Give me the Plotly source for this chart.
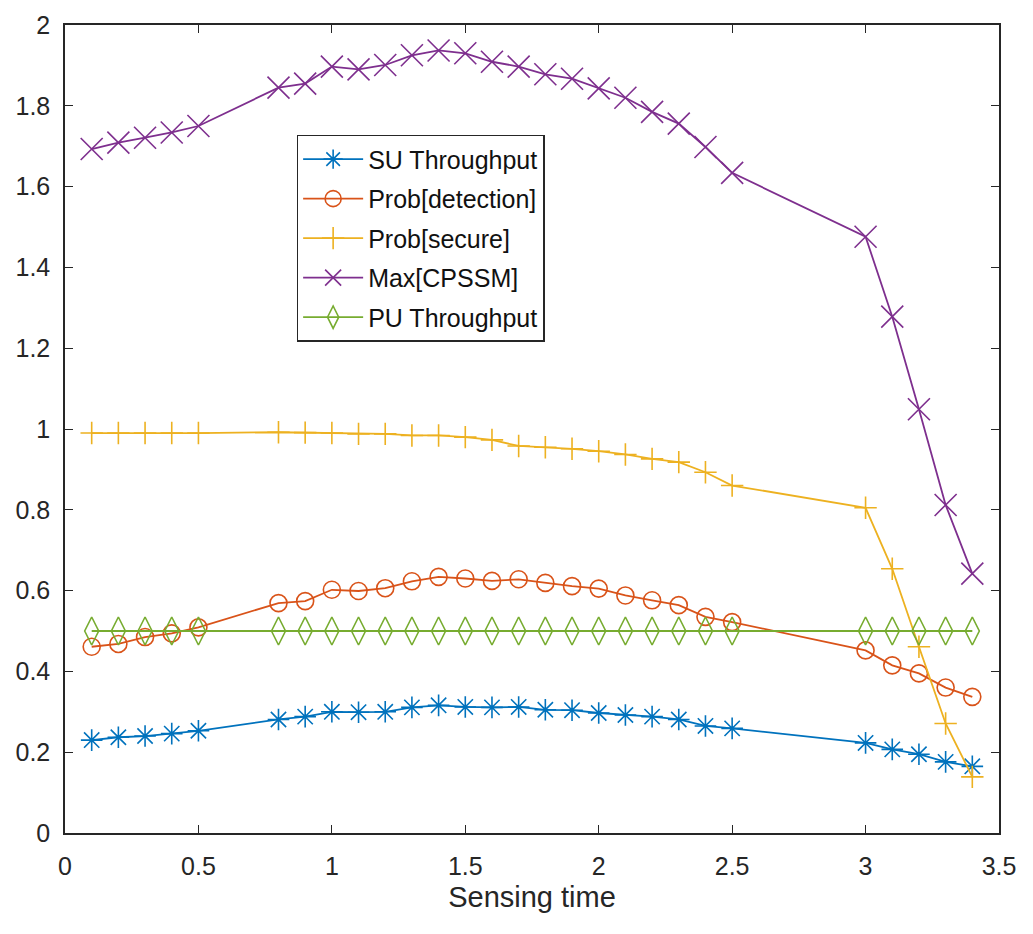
import plotly.graph_objects as go

sensing_time = [0.1, 0.2, 0.3, 0.4, 0.5, 0.8, 0.9, 1.0, 1.1, 1.2, 1.3, 1.4, 1.5, 1.6,
                1.7, 1.8, 1.9, 2.0, 2.1, 2.2, 2.3, 2.4, 2.5, 3.0, 3.1, 3.2, 3.3, 3.4]

su_throughput = [0.230, 0.237, 0.240, 0.246, 0.253, 0.281, 0.288, 0.300, 0.299, 0.300,
                 0.311, 0.316, 0.312, 0.311, 0.312, 0.305, 0.304, 0.297, 0.292, 0.288,
                 0.281, 0.265, 0.259, 0.223, 0.207, 0.195, 0.176, 0.165]
prob_detection = [0.461, 0.468, 0.485, 0.494, 0.509, 0.569, 0.574, 0.602, 0.599, 0.606,
                  0.623, 0.634, 0.630, 0.624, 0.628, 0.619, 0.611, 0.605, 0.588, 0.576,
                  0.564, 0.535, 0.522, 0.452, 0.415, 0.395, 0.360, 0.337]
prob_secure = [0.990, 0.990, 0.990, 0.990, 0.990, 0.992, 0.991, 0.990, 0.988, 0.988,
               0.984, 0.984, 0.980, 0.973, 0.958, 0.955, 0.951, 0.945, 0.937, 0.926,
               0.918, 0.893, 0.860, 0.805, 0.654, 0.461, 0.271, 0.139]
max_cpssm = [1.693, 1.709, 1.721, 1.734, 1.750, 1.845, 1.855, 1.897, 1.890, 1.901,
             1.925, 1.937, 1.930, 1.909, 1.897, 1.878, 1.867, 1.843, 1.820, 1.785,
             1.756, 1.698, 1.634, 1.476, 1.278, 1.049, 0.812, 0.642]
pu_throughput = [0.5] * len(sensing_time)

series_names = ["SU Throughput", "Prob[detection]", "Prob[secure]", "Max[CPSSM]", "PU Throughput"]
series_values = [su_throughput, prob_detection, prob_secure, max_cpssm, pu_throughput]
colors = ["#0072BD", "#D95319", "#EDB120", "#7E2F8E", "#77AC30"]
symbols = ["asterisk-open", "circle-open", "cross-thin-open", "x-thin-open", "diamond-tall-open"]
sizes = [18, 17, 16, 22, 20]

x_ticks = [0, 0.5, 1, 1.5, 2, 2.5, 3, 3.5]
y_ticks = [0, 0.2, 0.4, 0.6, 0.8, 1, 1.2, 1.4, 1.6, 1.8, 2]

FONT = "Liberation Sans, Arial, sans-serif"
AX = "#262626"

fig = go.Figure()
for i, (name, vals) in enumerate(zip(series_names, series_values)):
    fig.add_trace(go.Scatter(
        x=sensing_time, y=vals, name=name, mode="lines+markers",
        legendgroup=f"g{i}",
        line=dict(color=colors[i], width=1.8),
        marker=dict(symbol=symbols[i], size=sizes[i], color=colors[i],
                    line=dict(color=colors[i], width=1.6)),
    ))

axis_common = dict(
    showgrid=False, zeroline=False, showline=True, linecolor=AX, linewidth=1.5,
    mirror="ticks", ticks="inside", ticklen=8, tickwidth=1.3, tickcolor=AX,
    tickfont=dict(family=FONT, size=25, color=AX),
)

fig.update_xaxes(range=[0, 3.5], tickvals=x_ticks, ticktext=[f"{v:g}" for v in x_ticks],
                 title=dict(text="Sensing time", font=dict(family=FONT, size=29, color=AX), standoff=8),
                 ticklabelstandoff=10,
                 **axis_common)
fig.update_yaxes(range=[0, 2], tickvals=y_ticks, ticktext=[f"{v:g}" for v in y_ticks],
                 ticklabelstandoff=8,
                 **axis_common)

fig.update_layout(
    width=1033, height=934,
    margin=dict(l=65, r=34, t=25, b=101),
    paper_bgcolor="white", plot_bgcolor="white",
    font=dict(family=FONT, color=AX),
    showlegend=True,
    legend=dict(
        x=0.248, y=0.864, xanchor="left", yanchor="top",
        bgcolor="white", bordercolor=AX, borderwidth=1.5,
        font=dict(family=FONT, size=25, color="#111111"),
        tracegroupgap=4, itemwidth=60,
    ),
)

fig.write_html("out.html")
